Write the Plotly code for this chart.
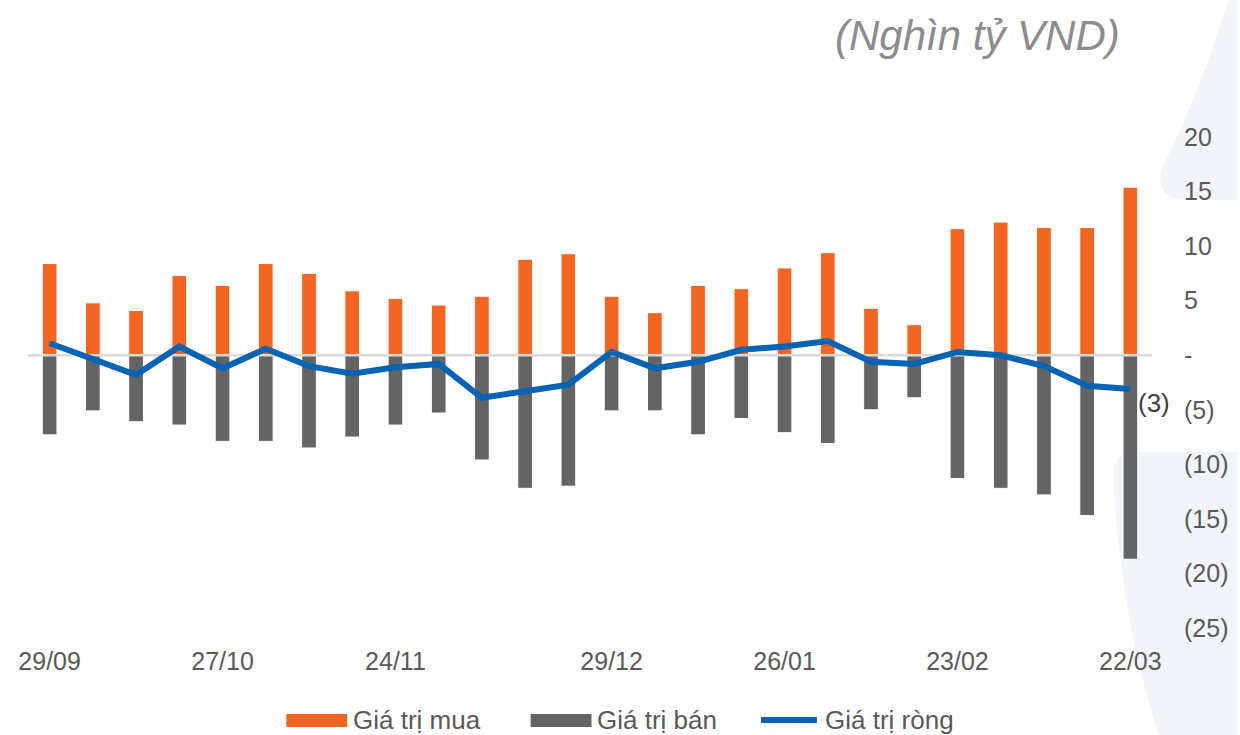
import plotly.graph_objects as go

# weekly foreign trading values, thousand bn VND
dates = ["29/09", "06/10", "13/10", "20/10", "27/10", "03/11", "10/11", "17/11",
         "24/11", "01/12", "08/12", "15/12", "22/12", "29/12", "05/01", "12/01",
         "19/01", "26/01", "02/02", "09/02", "16/02", "23/02", "02/03", "09/03",
         "16/03", "22/03"]
buy = [8.4, 4.8, 4.1, 7.3, 6.4, 8.4, 7.5, 5.9, 5.2, 4.6, 5.4, 8.8, 9.3,
       5.4, 3.9, 6.4, 6.1, 8.0, 9.4, 4.3, 2.8, 11.6, 12.2, 11.7, 11.7, 15.4]
sell = [-7.3, -5.1, -6.1, -6.4, -7.9, -7.9, -8.5, -7.5, -6.4, -5.3, -9.6, -12.2, -12.0,
        -5.1, -5.1, -7.3, -5.8, -7.1, -8.1, -5.0, -3.9, -11.3, -12.2, -12.8, -14.7, -18.7]
net = [1.1, -0.3, -1.8, 0.8, -1.2, 0.6, -1.0, -1.7, -1.1, -0.8, -3.9, -3.3, -2.7,
       0.3, -1.2, -0.6, 0.5, 0.8, 1.3, -0.6, -0.8, 0.3, 0.0, -1.0, -2.8, -3.1]
tick_labels = ["29/09", "27/10", "24/11", "29/12", "26/01", "23/02", "22/03"]
y_ticks = [20, 15, 10, 5, 0, -5, -10, -15, -20, -25]
y_labels = ["20", "15", "10", "5", "-", "(5)", "(10)", "(15)", "(20)", "(25)"]

ORANGE = "#F26522"
GREY = "#636466"
BLUE = "#0563B4"
TXT = "#595959"
FONT = "Arial, Liberation Sans, sans-serif"

W, H = 1240, 735
ML, MR, MT, MB = 28, 85, 137, 107
PW, PH = W - ML - MR, H - MT - MB


def px(x):
    return (x - ML) / PW


def py(y):
    return (H - MB - y) / PH


def path(pts):
    # pts: list of (cmd, [x, y, ...]) in page pixels -> paper path
    out = ""
    for cmd, xy in pts:
        out += cmd
        coords = []
        for i in range(0, len(xy), 2):
            coords.append("%.4f,%.4f" % (px(xy[i]), py(xy[i + 1])))
        out += " ".join(coords) + " "
    return out + "Z"


xs = list(range(len(dates)))

fig = go.Figure()
fig.add_trace(go.Bar(x=xs, y=buy, name="Giá trị mua", marker_color=ORANGE,
                     marker_line=dict(color="white", width=1), width=0.34))
fig.add_trace(go.Bar(x=xs, y=sell, name="Giá trị bán", marker_color=GREY,
                     marker_line=dict(color="white", width=1), width=0.34))
# zero line, above bars but under the net line
fig.add_trace(go.Scatter(x=[-0.5, len(dates) - 0.5], y=[0, 0], mode="lines",
                         line=dict(color="#d9d9d9", width=2.5), hoverinfo="skip"))
fig.add_trace(go.Scatter(x=xs, y=net, name="Giá trị ròng", mode="lines",
                         line=dict(color=BLUE, width=6)))

# background decoration
shapes = [
    dict(type="path", xref="paper", yref="paper", layer="below",
         path=path([("M", [1240, 0]), ("L", [1232, 0]), ("Q", [1202, 95, 1165, 168]),
                    ("Q", [1156, 200, 1195, 200]), ("L", [1240, 200])]),
         fillcolor="#f1f4f9", line_width=0),
    dict(type="path", xref="paper", yref="paper", layer="below",
         path=path([("M", [1240, 452]), ("L", [1138, 452]), ("Q", [1115, 452, 1116, 478]),
                    ("Q", [1124, 620, 1162, 735]), ("L", [1240, 735])]),
         fillcolor="#f1f4f9", line_width=0),
]

# legend drawn by hand (wide swatches)
leg = [("Giá trị mua", ORANGE, "rect", 287), ("Giá trị bán", GREY, "rect", 532),
       ("Giá trị ròng", BLUE, "line", 760)]
annotations = []
for name, col, kind, x0 in leg:
    if kind == "rect":
        shapes.append(dict(type="rect", xref="paper", yref="paper",
                           x0=px(x0), x1=px(x0 + 61), y0=py(727), y1=py(714),
                           fillcolor=col, line_width=0))
    else:
        shapes.append(dict(type="line", xref="paper", yref="paper",
                           x0=px(x0 + 3), x1=px(x0 + 59), y0=py(720), y1=py(720),
                           line=dict(color=col, width=6)))
    annotations.append(dict(x=px(x0 + 65), y=py(720), xref="paper", yref="paper",
                            text=name, showarrow=False, xanchor="left", yanchor="middle",
                            font=dict(size=26, color=TXT, family=FONT)))

annotations.append(dict(x=px(1125), y=py(35), xref="paper", yref="paper",
                        text="<i>(Nghìn tỷ VND)</i>", showarrow=False,
                        xanchor="right", yanchor="middle",
                        font=dict(size=42, color="#8c8c8c", family=FONT)))
# label on last net value
annotations.append(dict(x=xs[-1], y=net[-1], text="(%d)" % abs(round(net[-1])),
                        showarrow=False, xanchor="left", yanchor="middle",
                        xshift=6, yshift=-14,
                        font=dict(size=26, color="#404040", family=FONT)))

fig.update_layout(
    width=W, height=H,
    margin=dict(l=ML, r=MR, t=MT, b=MB),
    barmode="relative",
    showlegend=False,
    plot_bgcolor="rgba(0,0,0,0)",
    paper_bgcolor="white",
    font=dict(family=FONT, color=TXT),
    shapes=shapes,
    annotations=annotations,
)
fig.update_xaxes(range=[-0.5, len(dates) - 0.5], showgrid=False, zeroline=False,
                 showline=False, ticks="",
                 tickvals=[dates.index(t) for t in tick_labels], ticktext=tick_labels,
                 tickfont=dict(size=25, color=TXT), ticklabelstandoff=16)
fig.update_yaxes(range=[-25, 20], side="right", showgrid=False, zeroline=False,
                 showline=False, ticks="", tickvals=y_ticks, ticktext=y_labels,
                 tickfont=dict(size=25, color=TXT), ticklabelstandoff=31)

# page has a default 8px body margin; drop it so the figure fills the window
fig.write_html("out.html", config={"displayModeBar": False},
               post_script="document.body.style.margin='0';")
